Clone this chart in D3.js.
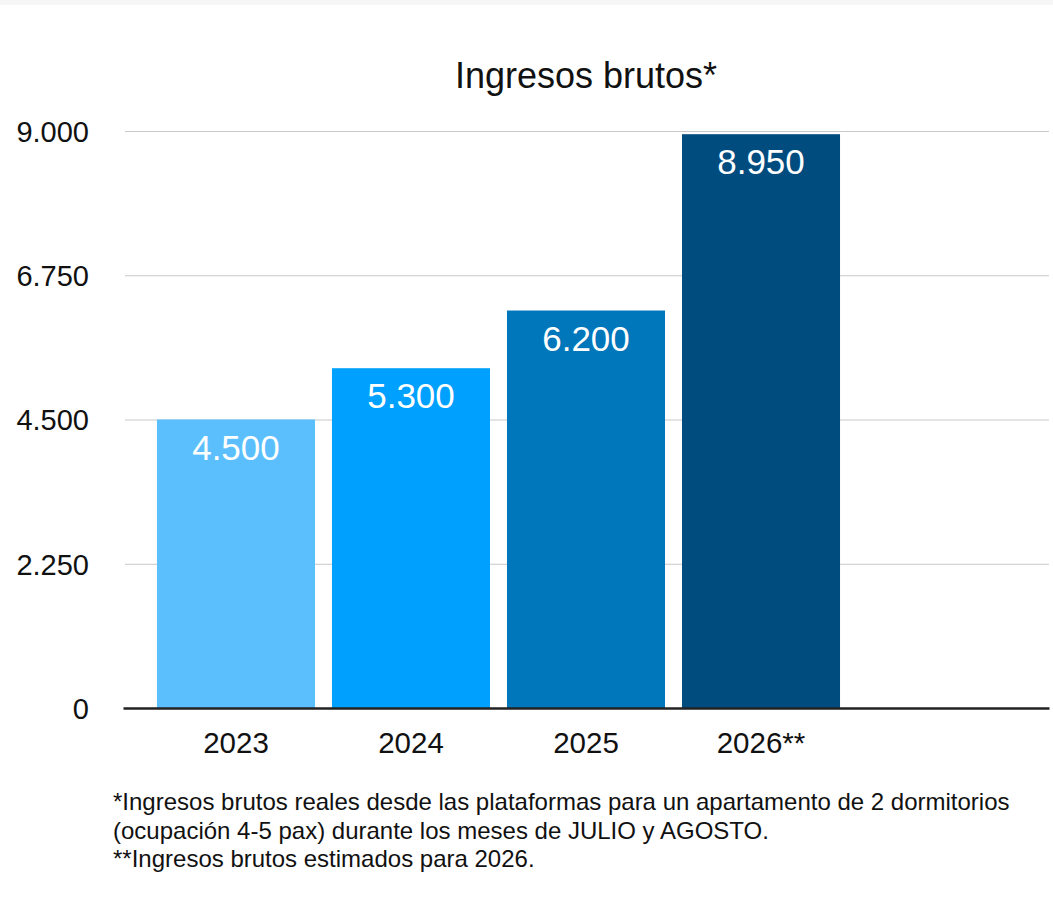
<!DOCTYPE html>
<html>
<head>
<meta charset="utf-8">
<script src="https://cdn.jsdelivr.net/npm/d3@7"></script>
<style>
  html, body { margin: 0; padding: 0; background: #fff; }
  svg { display: block; font-family: "Liberation Sans", Arial, Helvetica, sans-serif; }
</style>
</head>
<body>
<svg id="chart"></svg>
<script>
// chart data
var categories = ['2023', '2024', '2025', '2026**'];
var values = [4500, 5300, 6200, 8950];
var valueLabels = ['4.500', '5.300', '6.200', '8.950'];
var barColors = ['#5bbffd', '#00a1fe', '#0076bb', '#004c7f'];
var yTicks = [0, 2250, 4500, 6750, 9000];
var yTickLabels = ['0', '2.250', '4.500', '6.750', '9.000'];
var footnotes = [
  '*Ingresos brutos reales desde las plataformas para un apartamento de 2 dormitorios',
  '(ocupación 4-5 pax) durante los meses de JULIO y AGOSTO.',
  '**Ingresos brutos estimados para 2026.'
];

var W = 1053, H = 909;
var plot = { left: 123, right: 1049, top: 131, bottom: 708 };

var svg = d3.select('#chart').attr('width', W).attr('height', H);

/* thin grey strip at the top of the screenshot */
svg.append('rect').attr('x', 0).attr('y', 0).attr('width', W).attr('height', 5)
  .attr('fill', '#f6f6f6');

/* scales - one empty slot after the last year */
var x = d3.scaleBand()
  .domain(categories.concat(['']))
  .range([plot.left, plot.right])
  .paddingInner(0.097)
  .paddingOuter(0.194);

var y = d3.scaleLinear().domain([0, 9000]).range([plot.bottom, plot.top]);

/* title */
svg.append('text')
  .attr('x', (plot.left + plot.right) / 2)
  .attr('y', 88)
  .attr('text-anchor', 'middle')
  .attr('font-size', 36)
  .attr('fill', '#111')
  .text('Ingresos brutos*');

/* grid */
svg.append('g')
  .selectAll('line')
  .data(yTicks.filter(function(d) { return d > 0; }))
  .enter().append('line')
    .attr('x1', plot.left + 2).attr('x2', plot.right)
    .attr('y1', function(d) { return y(d) + 0.5; })
    .attr('y2', function(d) { return y(d) + 0.5; })
    .attr('stroke', '#c8c8c8').attr('stroke-width', 1);

/* y labels */
var yAxis = d3.axisLeft(y)
  .tickValues(yTicks)
  .tickSize(0)
  .tickPadding(0)
  .tickFormat(function(d, i) { return yTickLabels[i]; });

var gY = svg.append('g')
  .attr('transform', 'translate(89,0)')
  .call(yAxis);
gY.select('.domain').remove();
gY.selectAll('text')
  .attr('font-size', 29)
  .attr('font-family', '"Liberation Sans", Arial, sans-serif')
  .attr('fill', '#111')
  .attr('dy', '0.36em');

/* bars */
svg.append('g')
  .selectAll('rect')
  .data(values)
  .enter().append('rect')
    .attr('x', function(d, i) { return x(categories[i]); })
    .attr('y', function(d) { return y(d); })
    .attr('width', x.bandwidth())
    .attr('height', function(d) { return y(0) - y(d); })
    .attr('fill', function(d, i) { return barColors[i]; });

/* value labels inside the bars */
svg.append('g')
  .selectAll('text')
  .data(values)
  .enter().append('text')
    .attr('x', function(d, i) { return x(categories[i]) + x.bandwidth() / 2; })
    .attr('y', function(d) { return y(d) + 40; })
    .attr('text-anchor', 'middle')
    .attr('font-size', 35)
    .attr('fill', '#fff')
    .text(function(d, i) { return valueLabels[i]; });

/* x axis */
var xAxis = d3.axisBottom(x).tickSize(0).tickPadding(0);
var gX = svg.append('g')
  .attr('transform', 'translate(0,' + plot.bottom + ')')
  .call(xAxis);
gX.select('.domain')
  .attr('stroke', '#222')
  .attr('stroke-width', 2.5);
gX.selectAll('text')
  .attr('font-size', 29.5)
  .attr('font-family', '"Liberation Sans", Arial, sans-serif')
  .attr('fill', '#111')
  .attr('dy', 0)
  .attr('y', 45);

/* footnotes */
svg.append('g')
  .selectAll('text')
  .data(footnotes)
  .enter().append('text')
    .attr('x', 113)
    .attr('y', function(d, i) { return 810 + i * 28.5; })
    .attr('font-size', 24)
    .attr('fill', '#111')
    .text(function(d) { return d; });
</script>
</body>
</html>
